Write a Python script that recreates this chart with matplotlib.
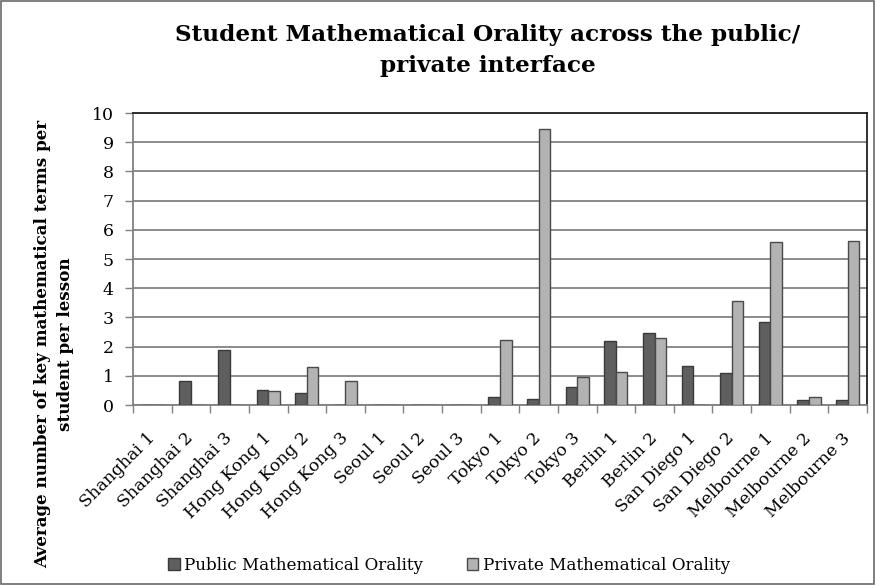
import matplotlib
matplotlib.use("Agg")
import matplotlib.pyplot as plt
import numpy as np

# average key mathematical terms per student per lesson
lessons = ["Shanghai 1", "Shanghai 2", "Shanghai 3", "Hong Kong 1", "Hong Kong 2",
           "Hong Kong 3", "Seoul 1", "Seoul 2", "Seoul 3", "Tokyo 1", "Tokyo 2",
           "Tokyo 3", "Berlin 1", "Berlin 2", "San Diego 1", "San Diego 2",
           "Melbourne 1", "Melbourne 2", "Melbourne 3"]
public_orality = [0, 0.81, 1.89, 0.52, 0.42, 0, 0, 0, 0, 0.27, 0.22,
                  0.61, 2.19, 2.47, 1.35, 1.10, 2.85, 0.17, 0.16]
private_orality = [0, 0, 0, 0.48, 1.30, 0.83, 0, 0, 0, 2.23, 9.46,
                   0.97, 1.12, 2.31, 0, 3.55, 5.59, 0.29, 5.62]

plt.rcParams['font.family'] = ['DejaVu Serif']

fig = plt.figure(figsize=(8.76, 5.85), dpi=100)
ax = fig.add_axes([133 / 876, 1 - 405 / 585, 734 / 876, 292 / 585])

x = np.arange(len(lessons))
w = 0.3
ax.bar(x - w / 2, public_orality, w, color="#5f5f5f", edgecolor="#3a3a3a",
       linewidth=1.0, label="Public Mathematical Orality", zorder=3)
ax.bar(x + w / 2, private_orality, w, color="#b3b3b3", edgecolor="#4a4a4a",
       linewidth=1.0, label="Private Mathematical Orality", zorder=3)

ax.set_xlim(-0.5, len(lessons) - 0.5)
ax.set_ylim(0, 10)
ax.set_yticks(range(0, 11))
ax.yaxis.grid(True, color="#8a8a8a", linewidth=1.4, zorder=0)
ax.tick_params(axis="y", length=6, color="#808080", width=1, labelsize=12.5, pad=8)

# category boundaries get tick marks, names sit at the centres
ax.set_xticks(np.arange(len(lessons) + 1) - 0.5)
ax.set_xticklabels([])
ax.set_xticks(x, minor=True)
ax.set_xticklabels(lessons, minor=True, rotation=45, ha="right", va="center",
                   rotation_mode="anchor", fontsize=12.3)
ax.tick_params(axis="x", which="major", length=6, color="#808080", width=1)
ax.tick_params(axis="x", which="minor", length=0, pad=22)

for side in ["left", "bottom"]:
    ax.spines[side].set_color("#808080")
    ax.spines[side].set_linewidth(1.3)
for side in ["top", "right"]:
    ax.spines[side].set_color("#202020")
    ax.spines[side].set_linewidth(1.3)

fig.text(54 / 876, 1 - 344 / 585,
         "Average number of key mathematical terms per\nstudent per lesson",
         rotation=90, ha="center", va="center", fontsize=12.1, fontweight="bold",
         linespacing=1.45)

fig.text(488 / 876, 1 - 24 / 585,
         "Student Mathematical Orality across the public/\nprivate interface",
         ha="center", va="top", fontsize=16.7, fontweight="bold", linespacing=1.55)

fig.legend(loc="center", bbox_to_anchor=(449 / 876, 1 - 565 / 585), ncol=2,
           frameon=False, fontsize=12.1, handlelength=0.7, handleheight=0.7,
           handletextpad=0.25, columnspacing=2.6, borderpad=0)

# outer frame
fig.patches.append(plt.Rectangle((0.001, 0.001), 0.997, 0.997, transform=fig.transFigure,
                                 fill=False, edgecolor="#6a6a6a", linewidth=1.2))

fig.savefig("out.png", dpi=100)
